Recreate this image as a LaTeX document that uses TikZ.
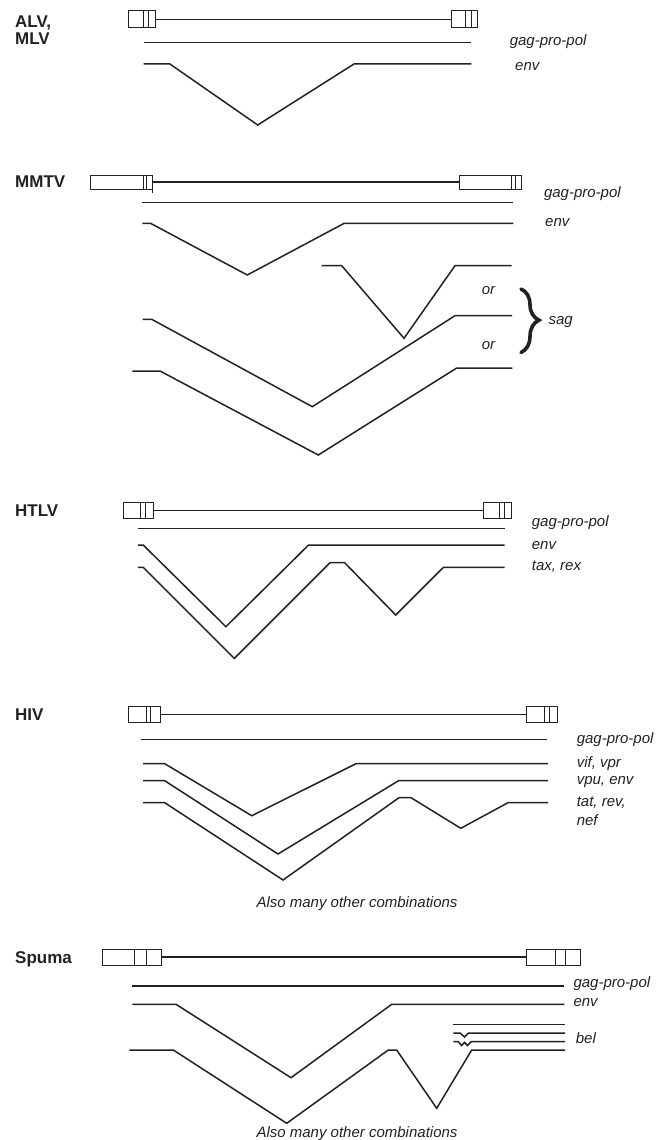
\documentclass[tikz,border=0pt]{standalone}
\usepackage{fontspec}
\setmainfont{Liberation Sans}
\usetikzlibrary{decorations.pathreplacing}
\definecolor{inkc}{HTML}{222222}
\begin{document}
\begin{tikzpicture}[x=1pt,y=-1pt,
  spl/.style={draw=inkc,line width=1.5pt},
  gline/.style={draw=inkc,line width=1.1pt},
  ltr/.style={draw=inkc,line width=1pt,fill=white},
  tick/.style={draw=inkc,line width=1pt},
  lbl/.style={font=\fontsize{15}{15}\selectfont\itshape,anchor=base west,inner sep=0pt,text=inkc},
  vname/.style={font=\fontsize{17}{17}\selectfont\bfseries,anchor=base west,inner sep=0pt,text=inkc},
  note/.style={font=\fontsize{15}{15}\selectfont\itshape,anchor=base,inner sep=0pt,text=inkc}
]
\fill[white] (0,0) rectangle (662,1140);
\useasboundingbox (0,0) rectangle (662,1140);

% ---------------- ALV, MLV ----------------
\node[vname] (alv) at (15,27.5) {ALV,};
\node[vname] (mlv) at (15,45) {MLV};
\draw[gline] (155.8,19.5) -- (451,19.5);
\draw[ltr] (128.7,11) rectangle (155.8,28);
\draw[tick] (143,11) -- (143,28) (148.6,11) -- (148.6,28);
\draw[ltr] (451,11) rectangle (477.7,28);
\draw[tick] (465.8,11) -- (465.8,28) (471.3,11) -- (471.3,28);
\draw[spl] (143.5,42.3) -- (471.3,42.3);
\draw[spl] (143.5,64) -- (169.9,64) -- (257.7,125) -- (354,64) -- (471.3,64);
\node[lbl] (alvgag) at (509.6,45.5) {gag-pro-pol};
\node[lbl] (alvenv) at (515,70.5) {env};

% ---------------- MMTV ----------------
\node[vname] (mmtv) at (15,187) {MMTV};
\draw[gline] (152,182) -- (459,182);
\draw[ltr] (90.4,175) rectangle (152,189);
\draw[tick] (143.3,175) -- (143.3,189) (146.8,175) -- (146.8,189) (152,175) -- (152,192.5);
\draw[ltr] (459,175) rectangle (521.6,189);
\draw[tick] (511.5,175) -- (511.5,189) (515,175) -- (515,189);
\draw[spl] (142.3,202.3) -- (513.4,202.3);
\draw[spl] (142.3,223.3) -- (150.5,223.3) -- (247.3,275) -- (344.2,223.3) -- (513.4,223.3);
\node[lbl] (mmgag) at (543.8,197.5) {gag-pro-pol};
\node[lbl] (mmenv) at (545,226.5) {env};

\draw[spl] (321.7,265.7) -- (341.7,265.7) -- (404,338.3) -- (455,265.7) -- (511.7,265.7);
\draw[spl] (142.7,319.3) -- (151.7,319.3) -- (312.3,406.7) -- (455,315.7) -- (512,315.7);
\draw[spl] (132.3,371) -- (160,371) -- (318.3,455) -- (456.7,368) -- (512.3,368);
\node[lbl] (or1) at (481.7,294) {or};
\node[lbl] (or2) at (481.7,349) {or};
\draw[draw=inkc,line width=3.6pt,line cap=round,decorate,decoration={brace,amplitude=18pt,aspect=0.49}] (521,289) -- (521,352.5);
\node[lbl] (sag) at (548.3,324) {sag};

% ---------------- HTLV ----------------
\node[vname] (htlv) at (15,516) {HTLV};
\draw[gline] (153.2,510.5) -- (483,510.5);
\draw[ltr] (123.4,502.7) rectangle (153.2,518.3);
\draw[tick] (140.3,502.7) -- (140.3,518.3) (145,502.7) -- (145,518.3);
\draw[ltr] (483,502.7) rectangle (511.9,518.3);
\draw[tick] (499.3,502.7) -- (499.3,518.3) (504.7,502.7) -- (504.7,518.3);
\draw[spl] (137.8,528.3) -- (504.7,528.3);
\draw[spl] (137.8,545) -- (143.2,545) -- (225.9,626.7) -- (308.6,545) -- (504.7,545);
\draw[spl] (137.8,567.3) -- (143.2,567.3) -- (234.3,658.4) -- (330,562.7) -- (344.6,562.7) -- (395.7,615) -- (443.5,567.3) -- (504.7,567.3);
\node[lbl] (htgag) at (531.7,526.7) {gag-pro-pol};
\node[lbl] (htenv) at (531.7,549.3) {env};
\node[lbl] (httax) at (531.7,570.7) {tax, rex};

% ---------------- HIV ----------------
\node[vname] (hiv) at (15,720) {HIV};
\draw[gline] (160,714.5) -- (526,714.5);
\draw[ltr] (128,706.7) rectangle (160,722.3);
\draw[tick] (146,706.7) -- (146,722.3) (150.7,706.7) -- (150.7,722.3);
\draw[ltr] (526,706.7) rectangle (557.6,722.3);
\draw[tick] (544,706.7) -- (544,722.3) (549.6,706.7) -- (549.6,722.3);
\draw[spl] (140.6,739.3) -- (547,739.3);
\draw[spl] (143.2,763.7) -- (164.7,763.7) -- (251.8,815.7) -- (356,763.7) -- (548,763.7);
\draw[spl] (143.2,780.7) -- (164.7,780.7) -- (278,854) -- (398.6,780.7) -- (548,780.7);
\draw[spl] (143.2,802.7) -- (164.7,802.7) -- (283,880) -- (399,797.7) -- (411,797.7) -- (460.8,828.3) -- (508,802.7) -- (548,802.7);
\node[lbl] (hvgag) at (576.6,743.3) {gag-pro-pol};
\node[lbl] (hvvif) at (576.6,767.3) {vif, vpr};
\node[lbl] (hvvpu) at (576.6,784.3) {vpu, env};
\node[lbl] (hvtat) at (576.6,806) {tat, rev,};
\node[lbl] (hvnef) at (576.6,825.7) {nef};
\node[note] (hvnote) at (357,907.3) {Also many other combinations};

% ---------------- Spuma ----------------
\node[vname] (spuma) at (15,963) {Spuma};
\draw[gline] (161,957) -- (526,957);
\draw[ltr] (102.7,949.3) rectangle (161,965);
\draw[tick] (134.3,949.3) -- (134.3,965) (146,949.3) -- (146,965);
\draw[ltr] (526,949.3) rectangle (580,965);
\draw[tick] (555,949.3) -- (555,965) (565.7,949.3) -- (565.7,965);
\draw[spl] (132.3,986) -- (564.3,986);
\draw[spl] (132.3,1004.3) -- (176,1004.3) -- (291,1077.7) -- (391.7,1004.3) -- (564.3,1004.3);
\draw[spl] (453.3,1024.3) -- (565,1024.3);
\draw[spl] (453.3,1033) -- (460,1033) -- (464.5,1037) -- (468.5,1033) -- (565,1033);
\draw[spl] (453.3,1041.7) -- (458.3,1041.7) -- (461.5,1045.5) -- (464.5,1042.5) -- (467.5,1045.5) -- (471,1041.7) -- (565,1041.7);
\draw[spl] (129.3,1050) -- (173.3,1050) -- (286.7,1123.3) -- (388.3,1050) -- (396.7,1050) -- (436.7,1108.3) -- (471.7,1050) -- (565,1050);
\node[lbl] (spgag) at (573.3,987.5) {gag-pro-pol};
\node[lbl] (spenv) at (573.3,1006.7) {env};
\node[lbl] (spbel) at (575.7,1043.3) {bel};
\node[note] (spnote) at (357,1137) {Also many other combinations};
\end{tikzpicture}
\end{document}
